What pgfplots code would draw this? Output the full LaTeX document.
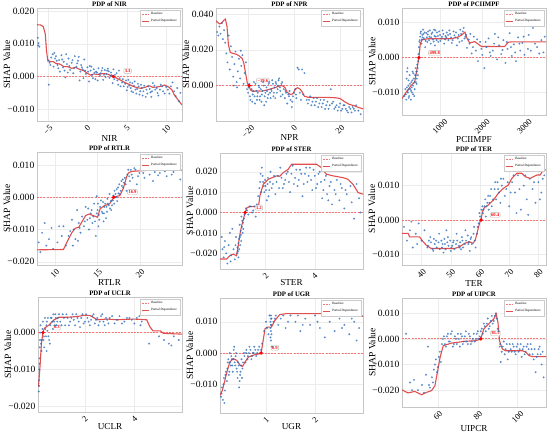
\documentclass[border=0pt]{standalone}
\usepackage{fontspec}
\setmainfont{Liberation Serif}
\usepackage{graphicx}
\usepackage{pgfplots}
\pgfplotsset{compat=1.18}
\newcommand\rl[1]{\rotatebox{45}{#1}}
\definecolor{scblue}{RGB}{40,105,185}
\definecolor{pdred}{RGB}{222,60,60}
\definecolor{basered}{RGB}{245,120,120}
\pgfplotsset{
 pdp/.style={
  scale only axis, anchor=north west,
  axis line style={draw=gray!45, line width=0.7bp},
  grid=major, grid style={draw=gray!15, line width=0.4bp},
  major tick length=0pt, tick style={draw=none},
  scaled ticks=false,
  yticklabel style={font=\fontsize{9.6}{10}\selectfont, anchor=east, inner sep=0pt, xshift=-2.5bp},
  xticklabel style={font=\fontsize{8.6}{9}\selectfont, anchor=north, inner sep=0pt, yshift=-3.5bp},
  every axis title shift=0pt,
  title style={font=\bfseries\fontsize{6.8}{7}\selectfont, at={(axis description cs:0.5,1)}, anchor=base, inner sep=0pt, yshift=1.2bp},
  ylabel={SHAP Value},
  ylabel style={font=\fontsize{9.6}{10}\selectfont, at={([xshift=-30bp]axis description cs:0,0.5)}, anchor=center, inner sep=0pt},
  xlabel style={font=\fontsize{9.2}{10}\selectfont, anchor=center, inner sep=0pt},
  legend style={at={(0.985,0.985)}, anchor=north east, font=\fontsize{3.3}{3.6}\selectfont, draw=gray!40, line width=0.3bp, inner sep=0.8bp, row sep=-1bp},
  legend cell align=left,
  legend image code/.code={\draw[##1] (0bp,0bp) -- (7bp,0bp);},
 },
 sc/.style={only marks, color=scblue, mark=*, mark size=0.8bp, mark options={draw=none, fill=scblue}, opacity=0.6, forget plot},
 pd/.style={color=pdred, line width=1.1bp, opacity=0.9, mark=none},
 bl/.style={color=basered, line width=0.9bp, dash pattern=on 2bp off 1.2bp, mark=none},
 rp/.style={only marks, mark=*, mark size=1.5bp, color=red, forget plot},
}
\tikzset{ann/.style={draw=gray!55, fill=white, rounded corners=1bp, text=red, font=\bfseries\fontsize{4.6}{5}\selectfont, inner sep=0.9bp, line width=0.4bp}}
\begin{document}
\begin{tikzpicture}
\useasboundingbox (0,0) rectangle (550bp,-435bp);
% ---------------- NIR
\begin{axis}[pdp, at={(37bp,-8bp)}, width=145bp, height=113bp,
 xmin=-6.4, xmax=12, ymin=-0.01357, ymax=0.0209,
 xtick={-5,0,5,10}, xticklabels={\rl{−5},\rl{0},\rl{5},\rl{10}},
 ytick={-0.01,0,0.01,0.02}, yticklabels={−0.010,0.000,0.010,0.020},
 title={PDP of NIR}, xlabel={NIR}, xlabel style={at={([yshift=-17bp]axis description cs:0.5,0)}}]
\addplot[sc] coordinates {(-6.3,0.0118) (-6.2,0.0102) (-6.1,0.0091) (-6.25,0.0095)
(-5.0,0.0048) (-4.8,0.0042) (-4.9,-0.0025) (-4.6,0.0058) (-4.4,0.0068) (-4.2,0.0072) (-4.0,0.0062) (-3.8,0.0035) (-3.6,0.0050) (-3.5,0.0015) (-3.3,0.0065) (-3.1,0.0028) (-3.0,0.0045) (-2.8,-0.0003) (-2.6,0.0038) (-2.4,0.0055) (-2.2,0.0020) (-2.0,0.0042) (-1.8,0.0010) (-1.6,0.0062) (-1.4,0.0030) (-1.2,0.0048) (-1.0,-0.0012) (-0.8,0.0035) (-0.6,0.0022) (-0.4,0.0052) (-0.2,0.0008) (0.0,0.0028) (0.2,-0.0015) (0.4,0.0018) (0.6,0.0005) (0.8,0.0022) (1.0,-0.0008) (1.2,0.0012) (1.4,0.0025) (1.6,0.0002) (1.8,0.0018) (2.0,-0.0010) (2.2,0.0020) (2.4,0.0008) (2.6,0.0024) (2.8,-0.0004) (3.0,0.0012) (3.2,-0.0020) (3.5,0.0005) (3.8,-0.0012) (4.0,0.0018) (4.2,-0.0030) (4.5,-0.0008) (4.8,-0.0022) (5.0,-0.0042) (5.2,-0.0010) (5.5,-0.0035) (5.8,-0.0048) (6.0,-0.0015) (6.3,-0.0038) (6.6,-0.0055) (6.8,-0.0025) (7.1,-0.0045) (7.4,-0.0062) (7.7,-0.0030) (8.0,-0.0048) (8.3,-0.0020) (8.6,-0.0040) (9.0,-0.0058) (9.3,-0.0025) (9.6,-0.0045) (10.0,-0.0032) (10.4,-0.0052) (10.8,-0.0018) (11.2,-0.0060) (11.6,-0.0075) (11.8,-0.0050)
(1.1,0.0015) (1.5,0.0008) (1.9,0.0026) (2.3,-0.0002) (2.7,0.0016) (3.1,0.0004) (3.3,0.0022) (4.4,-0.0018) (5.3,-0.0028) (5.7,-0.0020) (6.2,-0.0052) (6.5,-0.0030) (7.0,-0.0058) (7.5,-0.0040) (8.1,-0.0062) (8.8,-0.0035) (-4.3,0.0030) (-3.9,0.0048) (-2.5,0.0012) (-1.9,0.0050) (-0.9,0.0015) (0.3,0.0032) (-0.5,-0.0005)
(0.1,0.0015) (0.5,0.0030) (0.7,-0.0005) (0.9,0.0012) (1.3,-0.0012) (1.7,0.0010) (2.1,0.0005) (2.5,0.0018) (2.9,0.0002) (3.4,-0.0008) (3.7,0.0010) (3.9,-0.0025) (4.1,-0.0005) (4.6,-0.0030) (4.9,-0.0012) (5.1,-0.0032) (5.4,-0.0018) (5.6,-0.0045) (5.9,-0.0028) (6.1,-0.0040) (6.4,-0.0022) (6.7,-0.0045) (6.9,-0.0035) (7.2,-0.0028) (7.6,-0.0052) (7.9,-0.0038) (8.2,-0.0045) (8.5,-0.0028) (8.9,-0.0050) (9.2,-0.0040) (9.5,-0.0030) (9.8,-0.0052) (10.2,-0.0040) (10.6,-0.0030) (11.0,-0.0045) (11.4,-0.0035) (-4.7,0.0035) (-4.1,0.0055) (-3.7,0.0025) (-3.2,0.0052) (-2.9,0.0018) (-2.3,0.0032) (-1.7,0.0025) (-1.3,0.0040) (-0.7,0.0028) (-0.3,0.0018) (-1.1,0.0060) (-2.7,0.0068)};
\addplot[bl] coordinates {(-6.4,0) (12,0)}; \addlegendentry{Baseline}
\addplot[pd] coordinates {(-6.4,0.0158) (-5.9,0.0157) (-5.6,0.0152) (-5.35,0.0130) (-5.2,0.0080) (-5.05,0.0052) (-4.8,0.0046) (-4.3,0.0045) (-4.0,0.0040) (-3.5,0.0038) (-3.0,0.0030) (-2.5,0.0030) (-2.0,0.0025) (-1.5,0.0028) (-1.0,0.0022) (-0.5,0.0018) (0.0,0.0010) (0.4,0.0004) (0.8,0.0008) (1.3,0.0006) (2.0,0.0009) (2.6,0.0007) (3.0,0.0003) (3.3,0.0) (3.8,-0.0006) (4.3,-0.0012) (4.8,-0.0019) (5.3,-0.0024) (5.8,-0.0030) (6.3,-0.0034) (6.8,-0.0036) (7.3,-0.0033) (7.8,-0.0028) (8.3,-0.0033) (8.8,-0.0032) (9.3,-0.0030) (9.8,-0.0026) (10.3,-0.0032) (10.7,-0.0040) (11.0,-0.0055) (11.4,-0.0068) (12.0,-0.0087)}; \addlegendentry{Partial Dependence}
\addplot[rp] coordinates {(3.3,0)};
\node[ann] at (axis cs:5.1,0.0017) {3.3};
\end{axis}
% ---------------- NPR
\begin{axis}[pdp, at={(216bp,-8bp)}, width=147bp, height=113bp,
 xmin=-34, xmax=30, ymin=-0.0198, ymax=0.0434,
 xtick={-20,0,20}, xticklabels={\rl{−20},\rl{0},\rl{20}},
 ytick={0,0.02,0.04}, yticklabels={0.000,0.020,0.040},
 title={PDP of NPR}, xlabel={NPR}, xlabel style={at={([yshift=-16bp]axis description cs:0.5,0)}}]
\addplot[sc] coordinates {(-33.5,0.030) (-33,0.028) (-32.5,0.033) (-32,0.029) (-31.5,0.035) (-31,0.026) (-30.5,0.031) (-30,0.024)
(-29.5,0.018) (-29,0.013) (-28.5,0.028) (-28,0.009) (-27.5,0.022) (-27,0.016)
(-26.5,0.005) (-26,0.012) (-25.5,0.019) (-25,0.002) (-24.5,0.008) (-24,0.015) (-23.5,0.004) (-23,0.011) (-22.5,0.017) (-22,0.001) (-21.5,0.007) (-21,0.013) (-20.5,-0.002) (-26.2,0.0) (-24.8,-0.001) (-23.2,0.0195)
(-20,-0.004) (-19.5,0.001) (-19,-0.008) (-18.5,-0.002) (-18,-0.005) (-17.5,0.002) (-17,-0.010) (-16.5,-0.003) (-16,-0.006) (-15.5,0.000) (-15,-0.008) (-14.5,-0.002) (-14,-0.005) (-13.5,0.002) (-13,-0.011) (-12.5,-0.004) (-12,-0.001) (-11.5,-0.007) (-11,0.001) (-10.5,-0.004) (-10,-0.002) (-9.5,0.003) (-9,-0.006) (-8.5,-0.001) (-8,0.002) (-7.5,-0.004) (-7,0.000) (-6.5,0.004) (-6,-0.003) (-5.5,0.001) (-5,-0.005)
(-4.5,-0.002) (-4,-0.007) (-3.5,-0.004) (-3,-0.010) (-2.5,-0.005) (-2,-0.003) (-1.5,-0.008) (-1,-0.012) (-0.5,-0.006) (0,-0.004) (0.5,-0.002) (1,-0.007) (1.5,0.010) (2,0.009) (3.5,0.009) (4.5,0.007) (2.5,-0.004) (3,-0.008) (4,-0.005)
(5.5,-0.008) (6,-0.010) (7,-0.006) (8,-0.009) (9,-0.011) (10,-0.007) (11,-0.010) (12,-0.012) (13,-0.008) (14,-0.011) (15,-0.013) (16,-0.002) (17,-0.009) (18,-0.012) (19,-0.014) (20,-0.010) (21,-0.013) (22,-0.011) (23,-0.014) (24,-0.012) (25,-0.015) (26,-0.013) (27,-0.011) (28,-0.014) (29,-0.016)
(-19.8,-0.001) (-19.2,-0.006) (-18.8,0.000) (-18.2,-0.009) (-17.8,-0.003) (-17.2,-0.006) (-16.8,0.001) (-16.2,-0.008) (-15.8,-0.004) (-15.2,-0.001) (-14.8,-0.006) (-14.2,-0.009) (-13.8,-0.003) (-13.2,0.000) (-12.8,-0.006) (-12.2,-0.009) (-11.8,-0.003) (-11.2,-0.005) (-10.8,0.002) (-10.2,-0.007) (-9.8,-0.003) (-9.2,0.001) (-8.8,-0.004) (-8.2,-0.007) (-7.8,0.001) (-7.2,-0.002) (-6.8,0.003) (-6.2,-0.001) (-5.8,-0.006) (-5.2,0.002) (6.5,-0.008) (7.5,-0.011) (8.5,-0.007) (9.5,-0.009) (10.5,-0.012) (11.5,-0.008) (12.5,-0.010) (13.5,-0.013) (14.5,-0.009) (15.5,-0.011) (16.5,-0.010) (17.5,-0.013) (18.5,-0.011) (19.5,-0.012) (20.5,-0.014) (21.5,-0.011) (22.5,-0.013) (23.5,-0.015) (24.5,-0.013) (25.5,-0.012) (26.5,-0.014) (-0.8,-0.009) (0.8,-0.005) (-2.2,-0.006) (-3.8,-0.003)};
\addplot[bl] coordinates {(-34,0) (30,0)}; \addlegendentry{Baseline}
\addplot[pd] coordinates {(-34,0.0362) (-32.5,0.0345) (-31.5,0.0350) (-30.6,0.0365) (-29.9,0.0372) (-29.2,0.0330) (-28.6,0.0230) (-27.8,0.0185) (-26.5,0.0180) (-25.0,0.0175) (-23.8,0.0165) (-22.5,0.0150) (-21.8,0.0120) (-21.0,0.0060) (-20.3,0.0010) (-19.6,0.0) (-19.0,-0.0025) (-18.0,-0.0032) (-16.0,-0.0030) (-14.0,-0.0031) (-12.0,-0.0025) (-10.0,-0.0018) (-8.0,-0.0010) (-6.0,0.0) (-5.0,-0.0002) (-4.0,-0.0010) (-3.0,-0.0038) (-1.5,-0.0050) (-0.5,-0.0045) (0.5,-0.0020) (1.5,-0.0012) (2.5,-0.0018) (3.5,-0.0035) (4.5,-0.0060) (6.0,-0.0065) (10.0,-0.0066) (15.0,-0.0066) (18.0,-0.0068) (20.0,-0.0072) (22.0,-0.0090) (24.0,-0.0105) (26.0,-0.0112) (28.0,-0.0122) (30.0,-0.0130)}; \addlegendentry{Partial Dependence}
\addplot[rp] coordinates {(-19.6,0)};
\node[ann] at (axis cs:-13.6,0.0028) {−19.6};
\end{axis}
% ---------------- PCIIMPF
\begin{axis}[pdp, at={(402bp,-8bp)}, width=144bp, height=107bp,
 xmin=100, xmax=3510, ymin=-0.0164, ymax=0.0142,
 xtick={1000,2000,3000}, xticklabels={\rl{1000},\rl{2000},\rl{3000}},
 ytick={-0.01,0,0.01}, yticklabels={−0.010,0.000,0.010},
 title={PDP of PCIIMPF}, xlabel={PCIIMPF}, xlabel style={at={([yshift=-25bp]axis description cs:0.5,0)}}]
\addplot[sc] coordinates {(160,-0.011) (180,-0.009) (200,-0.012) (210,-0.006) (220,-0.004) (240,-0.010) (250,-0.008) (270,-0.011) (280,-0.005) (300,-0.009) (310,-0.012) (320,-0.007) (340,-0.010) (350,-0.004) (360,-0.008) (380,-0.006) (390,-0.011) (400,-0.009) (410,-0.005) (420,-0.003) (430,-0.007) (440,-0.004) (450,-0.006) (460,-0.002) (470,-0.003) (480,-0.001) (490,0.001) (500,0.003) (230,-0.003) (260,-0.0115) (330,-0.0085) (370,-0.0045)
(520,0.005) (540,0.007) (560,0.004) (580,0.0065) (600,0.008) (620,0.0055) (650,0.003) (680,0.007) (700,0.0045) (720,0.0075) (750,0.006) (780,0.004) (800,0.0068) (830,0.0052) (860,0.008) (880,0.0035) (900,0.006) (930,0.0072) (960,0.0045) (1000,0.0065) (1030,0.0055) (1060,0.0078) (1100,0.004) (1130,0.0062) (1160,0.0072) (1200,0.005) (1240,0.0068) (1280,0.0042) (1320,0.0075) (1360,0.0058) (1400,0.0035) (1440,0.0065) (1480,0.008) (1520,0.0048) (1560,0.0085) (1600,0.006) (1640,0.0028) (1680,0.0052)
(1700,0.004) (1750,0.0012) (1800,0.006) (1850,0.002) (1900,-0.001) (1950,0.0045) (2000,0.0008) (2050,-0.003) (2100,0.003) (2150,0.0055) (2200,0.0005) (2250,0.002) (2300,0.0068) (2350,-0.0005) (2400,0.0035) (2450,0.001) (2500,0.005) (2550,-0.0015) (2600,0.0025) (2650,0.007) (2700,0.0005) (2750,0.0038) (2800,-0.001) (2850,0.0058) (2900,0.002) (2950,0.0042) (3000,0.0008) (3100,0.0065) (3150,0.002) (3200,0.0085) (3300,0.003) (3400,0.005) (3450,0.0015)
(190,-0.0105) (215,-0.0085) (235,-0.0095) (255,-0.0065) (265,-0.009) (290,-0.0075) (315,-0.0095) (345,-0.0065) (365,-0.0105) (395,-0.007) (425,-0.005) (445,-0.0075) (455,-0.004) (475,-0.005) (510,0.0045) (530,0.006) (550,0.0075) (570,0.0052) (590,0.0058) (610,0.0068) (640,0.0072) (660,0.0048) (690,0.0058) (710,0.0066) (740,0.005) (760,0.0078) (790,0.0058) (820,0.0072) (850,0.0046) (870,0.0062) (890,0.0078) (920,0.005) (950,0.0062) (980,0.0075) (1010,0.0048) (1050,0.006) (1080,0.0068) (1120,0.0052) (1150,0.0058) (1190,0.0065) (1220,0.0078) (1260,0.0058) (1300,0.005) (1340,0.0064) (1380,0.0072) (1420,0.0055) (1460,0.0045) (1500,0.0068) (1540,0.0075) (1580,0.0055) (1620,0.0065) (1720,0.0068) (1780,0.003) (1880,0.0052) (1980,0.0025) (2080,0.0045) (2180,0.0015) (2280,0.004) (2380,0.0058) (2480,0.0022) (2580,0.0045) (2680,0.003) (2780,0.0015) (2880,0.004) (2980,0.006) (3080,0.0025) (3250,0.004) (3350,0.0012) (3480,0.006)};
\addplot[bl] coordinates {(100,0) (3510,0)}; \addlegendentry{Baseline}
\addplot[pd] coordinates {(100,-0.0117) (203,-0.0098) (321,-0.0079) (400,-0.0070) (463,-0.0027) (499.8,0.0) (534,0.0040) (574,0.0051) (716,0.0054) (1032,0.0054) (1269,0.0054) (1427,0.0059) (1506,0.0064) (1590,0.0073) (1640,0.0055) (1703,0.0042) (1822,0.0046) (1980,0.0032) (2533,0.0032) (2612,0.0044) (2691,0.0045) (3510,0.0045)}; \addlegendentry{Partial Dependence}
\addplot[rp] coordinates {(499.8,0)};
\node[ann] at (axis cs:874,0.0014) {499.8};
\end{axis}
% ---------------- RTLR
\begin{axis}[pdp, at={(37bp,-152bp)}, width=145bp, height=113bp,
 xmin=7.9, xmax=24.9, ymin=-0.0210, ymax=0.0140,
 xtick={10,15,20}, xticklabels={\rl{10},\rl{15},\rl{20}},
 ytick={-0.02,-0.01,0,0.01}, yticklabels={−0.020,−0.010,0.000,0.010},
 title={PDP of RTLR}, xlabel={RTLR}, xlabel style={at={([yshift=-17.5bp]axis description cs:0.5,0)}}]
\addplot[sc] coordinates {(8.1,-0.014) (8.3,-0.017) (8.5,-0.011) (8.8,-0.008) (9.0,-0.015) (9.3,-0.013) (9.8,-0.016) (10.3,-0.014) (10.8,-0.012) (11.0,-0.009) (11.3,-0.015) (11.6,-0.012) (12.0,-0.007) (12.2,-0.010) (12.4,-0.013) (12.6,-0.004) (12.8,-0.008) (13.0,-0.011) (13.2,-0.006) (13.4,-0.009) (13.6,-0.003) (13.8,-0.007) (14.0,-0.010) (14.2,-0.005) (14.4,-0.008) (14.6,-0.002) (14.8,-0.012) (15.0,-0.004) (15.2,-0.007) (15.4,-0.001) (15.6,-0.005) (15.8,-0.003) (16.0,-0.0065) (16.2,-0.002) (16.4,0.001) (16.6,-0.004) (16.8,-0.001) (17.0,0.002) (17.2,0.000) (17.4,0.003) (17.6,0.001) (17.8,0.005) (18.0,0.003) (18.2,0.006) (18.4,0.002) (18.6,0.0085) (18.8,0.005) (19.0,0.007) (19.3,0.009) (19.6,0.004) (19.9,0.0075) (20.2,0.0085) (20.5,0.006) (20.8,0.0088) (21.1,0.007) (21.5,0.005) (21.9,0.0085) (22.3,0.0075) (22.7,0.009) (23.1,0.0065) (23.5,0.0085) (23.9,0.0078) (24.3,0.009) (24.7,0.0055) (15.1,-0.009) (14.9,0.0003) (16.1,-0.0045) (15.7,-0.0075) (17.3,-0.0012) (18.1,0.0045) (12.1,-0.015) (10.5,-0.009)
(14.1,-0.0065) (14.3,-0.004) (14.5,-0.006) (14.7,-0.0075) (14.9,-0.005) (15.05,-0.002) (15.15,-0.0055) (15.3,-0.003) (15.5,-0.0045) (15.65,-0.0015) (15.75,-0.005) (15.9,-0.002) (16.05,-0.003) (16.15,-0.0005) (16.3,-0.0025) (16.45,-0.0035) (16.55,-0.0012) (16.7,-0.0025) (16.85,0.0005) (16.95,-0.002) (17.1,0.001) (17.25,0.0025) (17.45,0.0012) (17.55,0.004) (17.7,0.002) (17.85,0.0035) (17.95,0.0055) (18.3,0.004) (18.5,0.007) (18.7,0.0065) (18.9,0.0085) (19.1,0.006) (19.45,0.0085) (19.75,0.0065) (20.05,0.0088) (20.35,0.0075) (20.65,0.0085) (21.3,0.0088) (21.7,0.0078) (22.1,0.0068) (22.5,0.0088) (22.9,0.008) (23.3,0.0088) (23.7,0.007) (24.1,0.0085) (24.5,0.0088) (13.5,-0.0075) (12.9,-0.0095) (13.9,-0.0035) (11.8,-0.0105) (12.7,-0.0135) (9.6,-0.0095)};
\addplot[bl] coordinates {(7.9,0) (24.9,0)}; \addlegendentry{Baseline}
\addplot[pd] coordinates {(7.9,-0.0163) (11.0,-0.0162) (11.4,-0.0140) (12.0,-0.0109) (12.4,-0.0096) (12.8,-0.0093) (13.2,-0.0075) (13.6,-0.0057) (14.0,-0.0052) (14.5,-0.0057) (15.0,-0.0062) (15.3,-0.0036) (15.8,-0.0026) (16.4,-0.0021) (16.9,0.0) (17.6,0.0005) (18.0,0.0026) (18.4,0.0062) (18.6,0.0075) (19.0,0.0080) (20.2,0.0082) (21.4,0.0084) (24.9,0.0084)}; \addlegendentry{Partial Dependence}
\addplot[rp] coordinates {(16.9,0)};
\node[ann] at (axis cs:19.1,0.0016) {16.9};
\end{axis}
% ---------------- STER
\begin{axis}[pdp, at={(220bp,-153bp)}, width=143bp, height=116bp,
 xmin=0.15, xmax=5.96, ymin=-0.0277, ymax=0.0292,
 xtick={2,4}, xticklabels={\rl{2},\rl{4}},
 ytick={-0.02,-0.01,0,0.01,0.02}, yticklabels={−0.020,−0.010,0.000,0.010,0.020},
 title={PDP of STER}, xlabel={STER}, xlabel style={at={([yshift=-13.5bp]axis description cs:0.5,0)}}]
\addplot[sc] coordinates {(0.22,-0.012) (0.25,-0.018) (0.3,-0.022) (0.35,-0.014) (0.4,-0.020) (0.45,-0.025) (0.5,-0.016) (0.55,-0.010) (0.6,-0.021) (0.65,-0.008) (0.7,-0.018) (0.75,-0.023) (0.8,-0.012) (0.85,-0.020) (0.9,-0.015) (0.95,-0.006) (1.0,-0.011) (1.05,-0.004) (1.1,-0.008) (1.15,-0.001) (0.88,-0.019) (0.92,-0.013) (0.97,-0.016) (1.02,-0.002) (1.2,0.002) (1.3,-0.001) (1.4,0.003) (1.5,0.001) (1.6,-0.002) (1.65,0.004) (1.7,0.008) (1.75,0.012) (1.8,0.019) (1.85,0.022) (1.9,0.015) (1.95,0.010) (2.0,0.013) (2.05,0.006) (2.1,0.017) (2.15,0.011) (2.2,0.020) (2.3,0.014) (2.4,0.009) (2.5,0.018) (2.6,0.022) (2.7,0.012) (2.8,0.016) (2.9,0.020) (3.0,0.010) (3.1,0.023) (3.2,0.017) (3.3,0.013) (3.4,0.021) (3.5,0.008) (3.6,0.019) (3.7,0.015) (3.8,0.022) (3.9,0.011) (4.0,0.018) (4.1,0.014) (4.2,0.020) (4.3,0.007) (4.4,0.016) (4.5,0.009) (4.6,0.013) (4.7,0.004) (4.8,0.011) (4.9,0.016) (5.0,0.006) (5.1,0.012) (5.2,0.002) (5.3,0.009) (5.5,0.005) (5.6,-0.003) (5.7,0.014) (5.8,0.007) (5.85,0.000)
(0.86,-0.017) (0.9,-0.022) (0.93,-0.018) (0.96,-0.012) (0.99,-0.009) (1.01,-0.014) (1.04,-0.007) (1.07,-0.010) (1.09,-0.005) (1.12,-0.003) (1.25,0.001) (1.35,0.003) (1.45,0.000) (1.55,0.003) (1.78,0.015) (1.82,0.010) (1.88,0.018) (1.93,0.013) (1.98,0.016) (2.02,0.011) (2.08,0.014) (2.12,0.008) (2.18,0.015) (2.25,0.012) (2.35,0.018) (2.45,0.015) (2.55,0.012) (2.65,0.017) (2.75,0.014) (2.85,0.019) (2.95,0.015) (3.05,0.019) (3.15,0.014) (3.25,0.021) (3.35,0.016) (3.45,0.019) (3.55,0.014) (3.65,0.022) (3.75,0.018) (3.85,0.016) (3.95,0.021) (4.05,0.012) (4.15,0.019) (4.25,0.015) (4.35,0.011) (4.45,0.018) (4.55,0.006) (4.65,0.015) (4.85,0.009) (5.05,0.014) (5.25,0.011) (5.45,0.013) (0.32,-0.017) (0.58,-0.024) (0.78,-0.016)};
\addplot[bl] coordinates {(0.15,0) (5.96,0)}; \addlegendentry{Baseline}
\addplot[pd] coordinates {(0.15,-0.0228) (0.42,-0.0228) (0.55,-0.0212) (0.69,-0.0204) (0.82,-0.0212) (0.89,-0.0163) (0.96,-0.0106) (1.03,-0.0065) (1.12,-0.0024) (1.17,0.0) (1.25,0.0024) (1.37,0.0029) (1.57,0.0029) (1.70,0.0016) (1.77,0.0082) (1.91,0.0139) (2.11,0.0163) (2.45,0.0180) (2.58,0.0178) (2.72,0.0196) (2.92,0.0212) (3.06,0.0237) (3.39,0.0237) (4.07,0.0237) (4.27,0.0220) (4.47,0.0188) (4.74,0.0180) (5.15,0.0171) (5.35,0.0163) (5.55,0.0139) (5.76,0.0098) (5.96,0.0090)}; \addlegendentry{Partial Dependence}
\addplot[rp] coordinates {(1.17,0)};
\node[ann] at (axis cs:1.73,0.0024) {1.2};
\end{axis}
% ---------------- TER
\begin{axis}[pdp, at={(402bp,-153bp)}, width=144bp, height=112bp,
 xmin=33.3, xmax=82.6, ymin=-0.0131, ymax=0.0195,
 xtick={40,50,60,70,80}, xticklabels={\rl{40},\rl{50},\rl{60},\rl{70},\rl{80}},
 ytick={-0.01,0,0.01}, yticklabels={−0.010,0.000,0.010},
 title={PDP of TER}, xlabel={TER}, xlabel style={at={([yshift=-18.5bp]axis description cs:0.5,0)}}]
\addplot[sc] coordinates {(34,-0.002) (35,-0.006) (36,-0.003) (37,-0.008) (38,-0.004) (39,-0.001) (40,-0.006) (41,-0.003) (42,-0.008) (43,-0.005) (44,-0.009) (45,-0.006) (46,-0.004) (47,-0.008) (48,-0.007) (49,-0.005) (50,-0.009) (51,-0.006) (52,-0.004) (53,-0.008) (54,-0.006) (55,-0.003) (56,-0.007) (57,-0.005) (58,-0.002) (58.5,-0.008) (59,-0.004) (59.5,-0.001) (60,0.001) (60.5,0.003) (61,0.002) (61.5,0.004) (62,0.001) (62.5,0.005) (63,0.003) (63.5,0.007) (64,0.004) (65,0.009) (65.5,0.006) (66,0.011) (66.5,0.008) (67,0.005) (67.5,0.010) (68,0.012) (68.5,0.007) (69,0.009) (70,0.004) (71,0.011) (72,0.008) (73,0.013) (74,0.003) (75,0.010) (76,0.006) (77,0.012) (78,0.009) (79,0.005) (80,0.011) (81,0.008) (82,0.013) (44.5,-0.007) (47.5,-0.0095) (50.5,-0.0075) (53.5,-0.0085) (56.5,-0.009) (42.5,-0.006) (48.5,-0.003) (38.5,-0.007) (36.5,-0.0005) (72.5,0.002) (76.5,0.0015)
(42.2,-0.0075) (43.2,-0.0065) (43.8,-0.0085) (44.2,-0.0055) (45.2,-0.008) (45.8,-0.0065) (46.2,-0.0085) (46.8,-0.006) (47.2,-0.007) (47.8,-0.0055) (48.2,-0.0085) (48.8,-0.0065) (49.2,-0.0075) (49.8,-0.006) (50.2,-0.008) (50.8,-0.0065) (51.2,-0.0085) (51.8,-0.007) (52.2,-0.006) (52.8,-0.0075) (53.2,-0.0065) (53.8,-0.005) (54.2,-0.008) (54.8,-0.007) (55.2,-0.006) (55.8,-0.0045) (56.2,-0.0065) (56.8,-0.0055) (57.2,-0.007) (57.8,-0.004) (58.2,-0.006) (59.2,-0.002) (59.8,0.002) (60.2,0.0) (60.8,0.004) (61.2,0.003) (61.8,0.006) (62.2,0.004) (62.8,0.007) (63.2,0.005) (63.8,0.009) (64.5,0.006) (65.2,0.011) (66.2,0.009) (67.2,0.012) (69.5,0.011) (70.5,0.008) (71.5,0.013) (73.5,0.009) (75.5,0.013) (78.5,0.011) (80.5,0.006) (81.5,0.012)};
\addplot[bl] coordinates {(33.3,0) (82.6,0)}; \addlegendentry{Baseline}
\addplot[pd] coordinates {(33.3,-0.0039) (35.4,-0.0039) (35.9,-0.0049) (39.3,-0.0049) (40.5,-0.0063) (41.6,-0.0073) (43.3,-0.0083) (51.3,-0.0083) (53.0,-0.0078) (54.7,-0.0068) (56.4,-0.0063) (57.6,-0.0068) (58.4,-0.0058) (59.1,-0.0034) (60.0,-0.0005) (60.4,0.0) (60.8,0.0024) (61.5,0.0036) (62.9,0.0044) (64.6,0.0058) (66.3,0.0078) (68.0,0.0092) (69.7,0.0102) (70.9,0.0121) (72.6,0.0136) (74.3,0.0136) (75.5,0.0126) (77.2,0.0121) (78.3,0.0126) (79.5,0.0131) (80.6,0.0131) (81.7,0.0146) (82.6,0.0146)}; \addlegendentry{Partial Dependence}
\addplot[rp] coordinates {(60.4,0)};
\node[ann] at (axis cs:65.2,0.0015) {60.4};
\end{axis}
% ---------------- UCLR
\begin{axis}[pdp, at={(38bp,-297bp)}, width=144bp, height=115bp,
 xmin=0.1, xmax=5.93, ymin=-0.0216, ymax=0.0097,
 xtick={2,4}, xticklabels={\rl{2},\rl{4}},
 ytick={-0.02,-0.01,0}, yticklabels={−0.020,−0.010,0.000},
 title={PDP of UCLR}, xlabel={UCLR}, xlabel style={at={([yshift=-15bp]axis description cs:0.5,0)}}]
\addplot[sc] coordinates {(0.13,-0.016) (0.14,-0.013) (0.15,-0.010) (0.16,-0.007) (0.17,-0.004) (0.18,-0.002) (0.15,-0.0145) (0.16,-0.0085) (0.19,0.000) (0.2,0.002)
(0.25,-0.002) (0.3,0.003) (0.35,-0.004) (0.4,0.001) (0.45,-0.005) (0.5,0.004) (0.55,-0.002) (0.6,0.002) (0.65,0.004) (0.7,0.001) (0.75,0.003) (0.8,0.005) (0.85,0.002) (0.9,0.004) (1.0,0.003) (1.1,0.005) (1.2,0.002) (1.3,0.004) (1.4,0.003) (1.5,0.005) (1.6,0.002) (1.7,0.004) (1.8,0.0015) (1.9,0.005) (2.0,0.003) (2.1,0.004) (2.2,0.002) (2.3,0.0045) (2.4,0.0025) (2.5,0.004) (2.6,0.003) (2.7,0.005) (2.8,0.002) (2.9,0.0035) (3.0,0.004) (3.2,0.0025) (3.4,0.0045) (3.6,0.003) (3.8,0.004) (4.0,0.0025) (4.2,0.0045) (4.3,0.003) (4.6,-0.003) (5.0,-0.001) (5.2,-0.002) (5.4,-0.003) (5.5,-0.0035) (5.6,-0.001) (5.8,-0.002) (0.42,-0.001) (0.48,0.0005) (0.58,-0.003)
(0.22,-0.003) (0.28,0.001) (0.32,-0.002) (0.38,0.004) (0.44,0.002) (0.52,-0.001) (0.62,0.004) (0.68,0.003) (0.72,0.005) (0.78,0.002) (0.82,0.004) (0.88,0.003) (0.95,0.005) (1.05,0.002) (1.15,0.004) (1.25,0.005) (1.35,0.002) (1.45,0.004) (1.55,0.0035) (1.65,0.005) (1.75,0.003) (1.85,0.004) (1.95,0.0025) (2.05,0.005) (2.15,0.003) (2.25,0.0035) (2.35,0.005) (2.45,0.0035) (2.55,0.002) (2.65,0.0045) (2.75,0.003) (2.85,0.004) (2.95,0.0025) (3.1,0.0045) (3.3,0.0035) (3.5,0.0025) (3.7,0.004) (3.9,0.0035) (4.1,0.004) (4.25,0.002) (0.24,-0.005) (0.34,-0.001) (0.46,0.003)};
\addplot[bl] coordinates {(0.1,0) (5.93,0)}; \addlegendentry{Baseline}
\addplot[pd] coordinates {(0.12,-0.0147) (0.18,-0.0093) (0.24,-0.0029) (0.3,0.0) (0.36,0.0012) (0.55,0.0021) (0.75,0.0035) (0.95,0.0042) (1.3,0.0042) (1.7,0.0044) (1.95,0.0047) (2.2,0.0047) (2.5,0.0035) (2.9,0.0037) (3.3,0.0035) (3.95,0.0037) (4.5,0.0035) (4.63,0.0016) (4.75,0.0005) (5.05,0.0005) (5.18,-0.0002) (5.93,-0.0004)}; \addlegendentry{Partial Dependence}
\addplot[rp] coordinates {(0.3,0)};
\node[ann] at (axis cs:0.86,0.0014) {0.3};
\end{axis}
% ---------------- UGR
\begin{axis}[pdp, at={(220bp,-298bp)}, width=143bp, height=115bp,
 xmin=0.06, xmax=2.98, ymin=-0.0192, ymax=0.0176,
 xtick={1,2}, xticklabels={\rl{1},\rl{2}},
 ytick={-0.01,0,0.01}, yticklabels={−0.010,0.000,0.010},
 title={PDP of UGR}, xlabel={UGR}, xlabel style={at={([yshift=-14bp]axis description cs:0.5,0)}}]
\addplot[sc] coordinates {(0.08,-0.014) (0.1,-0.011) (0.12,-0.015) (0.14,-0.008) (0.16,-0.012) (0.18,-0.006) (0.2,-0.009) (0.22,-0.003) (0.24,-0.007) (0.26,0.000) (0.28,-0.004) (0.3,-0.002) (0.32,-0.006) (0.34,0.001) (0.36,-0.003) (0.38,-0.001) (0.4,-0.005) (0.42,-0.008) (0.44,-0.004) (0.46,-0.009) (0.48,-0.006) (0.5,-0.002) (0.52,-0.005) (0.55,0.000) (0.58,-0.003) (0.6,0.001) (0.63,-0.001) (0.66,0.002) (0.7,-0.002) (0.73,0.000) (0.76,0.002) (0.8,-0.001) (0.84,0.001) (0.88,0.000) (0.92,0.003) (0.96,0.007) (1.0,0.010) (1.05,0.006) (1.1,0.004) (1.1,0.007) (1.1,0.009) (1.1,0.011) (1.1,0.012) (1.12,0.002) (1.15,0.010) (1.2,0.012) (1.25,0.009) (1.3,0.011) (1.4,0.008) (1.5,0.012) (1.6,0.010) (1.7,0.007) (1.8,0.011) (1.9,0.009) (2.0,0.012) (2.1,0.008) (2.2,0.005) (2.3,0.010) (2.4,0.007) (2.5,0.011) (2.6,0.009) (2.7,0.006) (2.8,0.010) (2.85,0.004) (2.9,0.008) (0.15,-0.016) (0.45,-0.011) (0.35,0.002)
(0.09,-0.013) (0.13,-0.010) (0.17,-0.007) (0.21,-0.005) (0.23,-0.002) (0.25,-0.006) (0.27,-0.003) (0.29,-0.001) (0.31,-0.004) (0.33,-0.002) (0.37,-0.004) (0.39,0.000) (0.41,-0.006) (0.43,-0.003) (0.47,-0.007) (0.49,-0.004) (0.51,-0.008) (0.53,-0.003) (0.56,-0.001) (0.59,0.000) (0.62,-0.002) (0.65,0.000) (0.68,0.001) (0.71,-0.001) (0.75,0.000) (0.78,0.001) (0.82,0.000) (0.86,0.002) (0.9,0.001) (1.09,0.005) (1.09,0.008) (1.09,0.010) (1.11,0.006) (1.11,0.009) (1.11,0.011) (1.02,0.008) (1.07,0.012) (1.18,0.011) (1.35,0.012) (1.45,0.010) (1.65,0.012) (1.75,0.009) (2.05,0.010) (2.35,0.012) (2.55,0.008) (2.75,0.011) (2.95,0.012)};
\addplot[bl] coordinates {(0.06,0) (2.98,0)}; \addlegendentry{Baseline}
\addplot[pd] coordinates {(0.06,-0.0135) (0.11,-0.0119) (0.16,-0.0087) (0.2,-0.0061) (0.26,-0.0029) (0.33,-0.0018) (0.4,-0.0023) (0.47,-0.0039) (0.52,-0.0043) (0.57,-0.0029) (0.64,-0.0013) (0.74,-0.0007) (0.88,-0.0002) (0.9,0.0) (0.92,0.0019) (0.98,0.0078) (1.03,0.0083) (1.11,0.0083) (1.18,0.0104) (1.28,0.0123) (1.42,0.0126) (1.96,0.0126) (2.44,0.0126) (2.54,0.0117) (2.98,0.0117)}; \addlegendentry{Partial Dependence}
\addplot[rp] coordinates {(0.9,0)};
\node[ann] at (axis cs:1.18,0.0017) {0.9};
\end{axis}
% ---------------- UIPCR
\begin{axis}[pdp, at={(402bp,-298bp)}, width=144bp, height=109bp,
 xmin=42, xmax=114.2, ymin=-0.0266, ymax=0.0160,
 xtick={60,80,100}, xticklabels={\rl{60},\rl{80},\rl{100}},
 ytick={-0.02,-0.01,0,0.01}, yticklabels={−0.020,−0.010,0.000,0.010},
 title={PDP of UIPCR}, xlabel={UIPCR}, xlabel style={at={([yshift=-21.5bp]axis description cs:0.5,0)}}]
\addplot[sc] coordinates {(44,0.002) (46,-0.017) (48,-0.016) (50,-0.020) (52,-0.018) (54,-0.014) (55,-0.003) (56,-0.019) (57,-0.015) (58,-0.012) (59,-0.008) (60,-0.011) (61,-0.005) (62,-0.002) (63,0.001) (64,-0.003) (65,0.002) (66,-0.001) (67,0.003) (68,-0.002) (69,0.000) (70,0.002) (71,-0.003) (72,0.001) (73,-0.001) (74,0.003) (75,-0.002) (76,0.001) (77,-0.001) (78,0.002) (79,0.000) (80,0.003) (81,0.001) (82,0.004) (83,0.006) (84,0.003) (85,0.008) (86,0.005) (87,0.009) (88,0.007) (89,0.010) (90,0.004) (91,-0.003) (92,-0.005) (93,-0.001) (94,-0.004) (95,-0.008) (96,-0.002) (97,-0.005) (98,-0.003) (99,-0.006) (100,-0.002) (101,-0.004) (102,-0.007) (103,-0.003) (104,-0.005) (105,-0.002) (106,-0.006) (107,-0.004) (108,-0.008) (109,-0.013) (110,-0.006) (111,-0.003) (112,-0.010) (113,-0.015) (53,-0.021) (47,-0.020) (58.5,-0.010) (60.5,-0.007) (91.5,-0.009) (93.5,-0.006)
(62.5,0.000) (63.5,-0.002) (64.5,0.001) (65.5,-0.001) (66.5,0.002) (67.5,-0.003) (68.5,0.001) (69.5,-0.002) (70.5,0.000) (71.5,0.002) (72.5,-0.002) (73.5,0.001) (74.5,-0.001) (75.5,0.002) (76.5,-0.002) (77.5,0.000) (78.5,-0.001) (79.5,0.002) (80.5,0.000) (81.5,0.003) (82.5,0.002) (83.5,0.005) (84.5,0.006) (85.5,0.004) (86.5,0.007) (87.5,0.006) (88.5,0.009) (89.5,0.008) (90.5,0.003) (91.2,-0.002) (92.5,-0.003) (94.5,-0.002) (95.5,-0.005) (96.5,-0.004) (97.5,-0.002) (98.5,-0.005) (99.5,-0.003) (100.5,-0.005) (101.5,-0.002) (102.5,-0.004) (103.5,-0.006) (104.5,-0.003) (105.5,-0.004) (106.5,-0.002) (107.5,-0.006) (108.5,-0.004) (109.5,-0.007) (110.5,-0.004) (111.5,-0.006) (112.5,-0.005) (59.5,-0.013) (57.5,-0.017) (55.5,-0.018) (61.5,-0.009)};
\addplot[bl] coordinates {(42,0) (114.2,0)}; \addlegendentry{Baseline}
\addplot[pd] coordinates {(42,-0.0199) (45.0,-0.0211) (48.4,-0.0205) (51.8,-0.0218) (54.3,-0.0209) (56.8,-0.0202) (58.5,-0.0183) (59.9,-0.0124) (61.1,-0.0072) (62.7,-0.0026) (67.0,-0.0016) (73.7,-0.0009) (78.8,-0.0007) (81.5,0.0) (83.0,0.0039) (85.5,0.0059) (88.0,0.0078) (89.2,0.0098) (90.1,0.0065) (90.9,-0.0007) (92.3,-0.0039) (93.9,-0.0046) (102.4,-0.0046) (104.1,-0.0052) (105.7,-0.0065) (107.4,-0.0069) (114.2,-0.0069)}; \addlegendentry{Partial Dependence}
\addplot[rp] coordinates {(81.5,0)};
\node[ann] at (axis cs:88.9,0.0022) {81.5};
\end{axis}
\end{tikzpicture}
\end{document}
